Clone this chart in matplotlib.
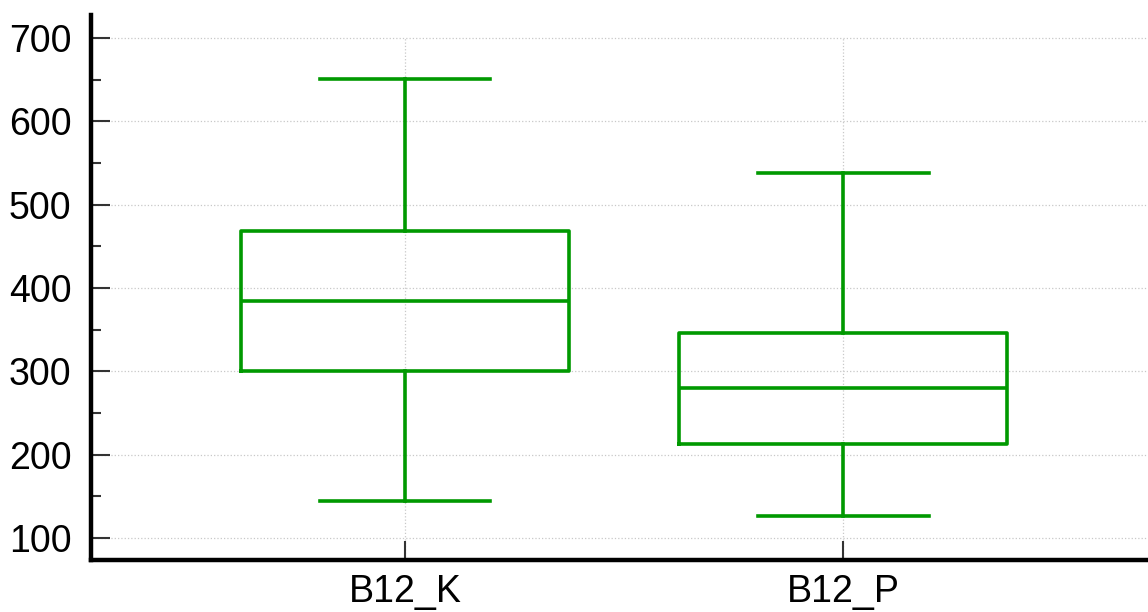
import matplotlib.pyplot as plt
from matplotlib.ticker import MultipleLocator

plt.rcParams['font.family'] = ['Liberation Sans', 'DejaVu Sans']

labels = ['B12_K', 'B12_P']
whislo = [145, 127]
q1 = [300, 213]
med = [385, 280]
q3 = [469, 346]
whishi = [651, 538]

stats = []
for i in range(len(labels)):
    stats.append({'label': labels[i], 'whislo': whislo[i], 'q1': q1[i],
                  'med': med[i], 'q3': q3[i], 'whishi': whishi[i]})

green = '#009900'
fig = plt.figure(figsize=(11.48, 6.12), dpi=100)
ax = fig.add_axes([91/1148, 52/612, 1 - 91/1148, 545/612])

lp = dict(color=green, linewidth=2.6)
ax.bxp(stats, positions=[1, 2], widths=0.75, showfliers=False,
       boxprops=lp, whiskerprops=lp, capprops=lp, medianprops=lp,
       capwidths=0.39)

ax.set_xlim(0.283, 2.696)
ax.set_ylim(73.6, 727.6)
ax.yaxis.set_major_locator(MultipleLocator(100))
ax.yaxis.set_minor_locator(MultipleLocator(50))
ax.grid(True, axis='y', which='major', color='#c8c8c8', linestyle=':', linewidth=0.9)
# vertical grid only up to the top tick (700)
ax.vlines([1, 2], 73.6, 700, colors='#c8c8c8', linestyles=':', linewidth=0.9, zorder=0.5)
ax.set_axisbelow(True)

for s in ['top', 'right']:
    ax.spines[s].set_visible(False)
for s in ['left', 'bottom']:
    ax.spines[s].set_linewidth(3.2)
    ax.spines[s].set_color('black')

ax.tick_params(axis='both', which='major', direction='in', length=14, width=1.5,
               color='#333333', labelsize=27)
ax.tick_params(axis='y', which='major', pad=14)
ax.tick_params(axis='x', which='major', pad=10)
ax.tick_params(axis='y', which='minor', direction='in', length=7, width=1.5,
               color='#333333')
ax.tick_params(axis='x', which='minor', bottom=False)

plt.savefig('out.png', dpi=100)
